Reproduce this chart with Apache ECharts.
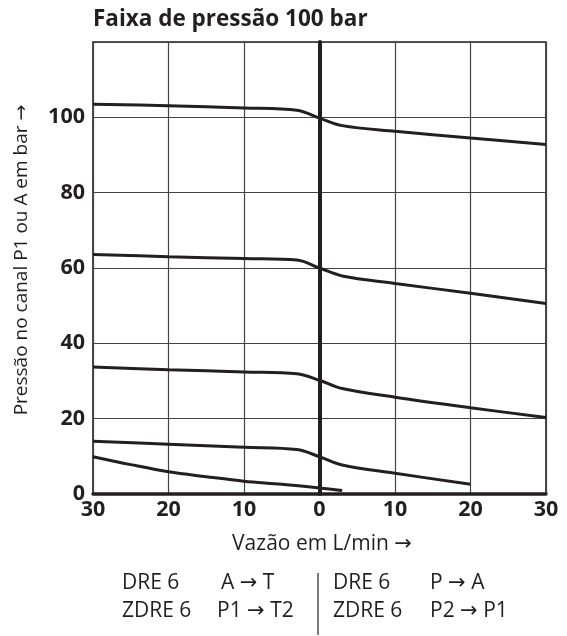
<!DOCTYPE html>
<html>
<head>
<meta charset="utf-8">
<script src="https://cdn.jsdelivr.net/npm/echarts@6/dist/echarts.min.js"></script>
<style>html,body{margin:0;padding:0;background:#fff}#c{width:567px;height:636px}</style>
</head>
<body>
<div id="c"></div>
<script>
// Data
var xTicks = [-30, -20, -10, 0, 10, 20, 30];
var yTicks = [0, 20, 40, 60, 80, 100];
var curve1X = [-30, -20, -10, -3, 0, 3, 10, 20, 30];
var curve1Y = [103.5, 103.1, 102.5, 101.9, 99.8, 97.8, 96.3, 94.5, 92.8];
var curve2X = [-30, -20, -10, -3, 0, 3, 10, 20, 30];
var curve2Y = [63.6, 63.0, 62.5, 62.1, 60.0, 57.9, 55.9, 53.3, 50.6];
var curve3X = [-30, -20, -10, -3, 0, 3, 10, 20, 30];
var curve3Y = [33.7, 33.0, 32.4, 31.9, 30.2, 28.0, 25.7, 22.9, 20.3];
var curve4X = [-30, -20, -10, -3, 0, 3, 10, 20];
var curve4Y = [14.0, 13.2, 12.4, 11.8, 9.9, 7.7, 5.5, 2.6];
var curve5X = [-30, -25, -20, -15, -10, -5, 0, 3];
var curve5Y = [9.9, 7.8, 5.9, 4.6, 3.4, 2.6, 1.6, 0.9];

var titleText = 'Faixa de pressão 100 bar';
var yName = 'Pressão no canal P1 ou A em bar →';
var xName = 'Vazão em L/min →';
var legendLeft = [['DRE 6', 'A → T'], ['ZDRE 6', 'P1 → T2']];
var legendRight = [['DRE 6', 'P → A'], ['ZDRE 6', 'P2 → P1']];

var INK = '#231f20';
var FONT = '"Open Sans", "DejaVu Sans", sans-serif';

function pairs(xs, ys) { return xs.map(function (x, i) { return [x, ys[i]]; }); }
function lineSeries(xs, ys) {
  return {
    type: 'line', data: pairs(xs, ys), smooth: 0.35, symbol: 'none', silent: true,
    lineStyle: { color: INK, width: 3 }, z: 5
  };
}

var chart = echarts.init(document.getElementById('c'), null, { renderer: 'canvas' });
var series = [
  lineSeries(curve1X, curve1Y),
  lineSeries(curve2X, curve2Y),
  lineSeries(curve3X, curve3Y),
  lineSeries(curve4X, curve4Y),
  lineSeries(curve5X, curve5Y)
];
series[0].markLine = {
  silent: true, symbol: 'none', label: { show: false },
  lineStyle: { color: INK, width: 3.5, type: 'solid' },
  data: [{ xAxis: 0 }], z: 4
};

function legendTexts(rows, xs) {
  var out = [];
  rows.forEach(function (row, r) {
    row.forEach(function (t, c) {
      out.push({
        type: 'text', x: xs[r][c], y: 583 + r * 28,
        style: { text: t, font: '21px ' + FONT, fill: INK, align: 'left', verticalAlign: 'middle' }
      });
    });
  });
  return out;
}

var graphics = [
  { type: 'text', x: 93, y: 20, style: { text: titleText, font: 'bold 22.5px ' + FONT, fill: INK, align: 'left', verticalAlign: 'middle' } },
  { type: 'text', x: 22, y: 260, rotation: Math.PI / 2,
    style: { text: yName, font: '19px ' + FONT, fill: INK, align: 'center', verticalAlign: 'middle' } },
  { type: 'text', x: 322, y: 544,
    style: { text: xName, font: '21px ' + FONT, fill: INK, align: 'center', verticalAlign: 'middle' } },
  { type: 'line', shape: { x1: 318, y1: 573, x2: 318, y2: 635 }, style: { stroke: INK, lineWidth: 1.2 } }
].concat(legendTexts(legendLeft, [[122, 221], [122, 217]]))
 .concat(legendTexts(legendRight, [[333, 430], [333, 430]]));

chart.setOption({
  animation: false,
  backgroundColor: '#fff',
  grid: { left: 93, right: 21, top: 42, bottom: 142, show: true, borderColor: INK, borderWidth: 1.6, backgroundColor: 'transparent' },
  xAxis: {
    type: 'value', min: xTicks[0], max: xTicks[xTicks.length - 1], interval: 10,
    axisLine: { show: true, onZero: false, lineStyle: { color: INK, width: 3.5 } },
    axisTick: { show: false },
    splitLine: { show: true, lineStyle: { color: '#444', width: 1.2 } },
    axisLabel: { color: INK, fontFamily: FONT, fontWeight: 'bold', fontSize: 21.5, margin: 5,
      formatter: function (v) { return String(Math.abs(v)); } }
  },
  yAxis: {
    type: 'value', min: yTicks[0], max: 120, interval: 20,
    axisLine: { show: true, lineStyle: { color: INK, width: 4 } },
    axisTick: { show: false },
    splitLine: { show: true, lineStyle: { color: '#444', width: 1.2 } },
    axisLabel: { color: INK, fontFamily: FONT, fontWeight: 'bold', fontSize: 21.5, margin: 8, showMaxLabel: false,
      formatter: function (v) { return yTicks.indexOf(v) >= 0 ? String(v) : ''; } }
  },
  series: series,
  graphic: graphics
});
</script>
</body>
</html>
